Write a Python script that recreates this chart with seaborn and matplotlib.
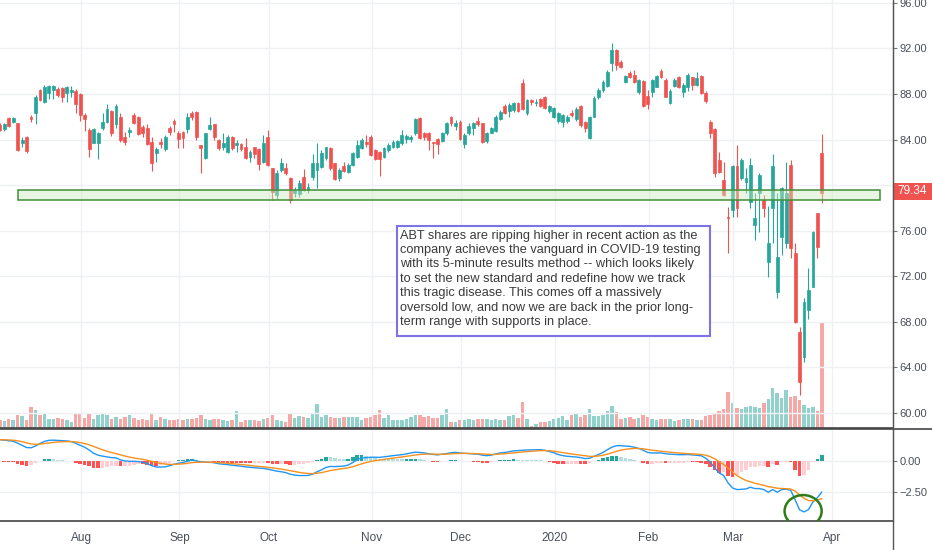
import numpy as np
import pandas as pd
import matplotlib
matplotlib.use('Agg')
import matplotlib.pyplot as plt
import seaborn as sns
from matplotlib.patches import Rectangle, Ellipse
from matplotlib.lines import Line2D
from matplotlib.ticker import FuncFormatter

# ABT daily candles, 2019-07-05 .. 2020-03-27
opens = [
    85.28, 84.89, 85.86, 85.57, 85.42, 83.66, 84.19, 86.01, 86.30, 88.36,
    87.33, 88.06, 88.36, 88.41, 88.50, 88.12, 88.21, 88.30, 88.00, 86.13,
    84.84, 83.72, 83.72, 84.98, 85.57, 86.51, 85.36, 86.01, 84.25, 84.69,
    86.16, 86.01, 85.07, 84.98, 83.81, 82.79, 83.81, 83.14, 85.04, 85.66,
    84.54, 84.69, 84.89, 86.30, 86.45, 83.49, 82.35, 84.89, 85.36, 83.96,
    83.37, 82.93, 84.25, 83.52, 83.61, 83.37, 82.49, 83.37, 83.14, 82.05,
    84.19, 81.47, 79.13, 81.32, 81.47, 80.59, 79.27, 79.21, 80.74, 79.56,
    80.68, 81.32, 81.62, 82.35, 83.23, 81.91, 80.59, 81.70, 81.17, 81.76,
    82.49, 83.23, 83.81, 84.25, 83.08, 82.93, 82.49, 83.08, 83.31, 83.37,
    83.66, 84.02, 84.02, 84.54, 85.86, 84.60, 84.60, 83.78, 84.02, 83.90,
    84.54, 86.01, 85.19, 85.57, 83.61, 84.54, 84.98, 85.66, 85.42, 83.90,
    84.60, 84.78, 85.77, 86.95, 86.54, 86.59, 87.18, 89.00, 86.30, 87.47,
    87.18, 87.53, 87.71, 86.54, 86.01, 85.66, 85.57, 85.66, 86.36, 85.77,
    86.95, 85.57, 84.10, 86.01, 87.71, 88.36, 88.71, 90.70, 91.87, 90.84,
    89.09, 89.82, 89.67, 88.21, 89.17, 87.82, 88.21, 88.64, 90.05, 89.23,
    87.18, 88.71, 89.52, 88.21, 88.59, 89.46, 88.79, 89.58, 88.06, 85.57,
    84.90, 82.20, 80.45, 77.22, 77.81, 81.68, 80.59, 80.30, 78.54, 76.49,
    79.28, 78.69, 73.27, 77.96, 70.63, 75.47, 74.88, 81.77, 74.06, 67.12,
    64.92, 69.02, 71.07, 77.52, 82.79,
]
highs = [
    85.42, 85.48, 86.01, 86.01, 85.48, 84.25, 84.31, 86.16, 87.91, 88.41,
    88.79, 88.79, 88.79, 88.59, 88.59, 88.71, 88.74, 88.41, 88.12, 86.30,
    84.98, 84.98, 84.69, 86.30, 87.12, 86.59, 87.12, 86.30, 84.69, 85.13,
    86.30, 86.07, 85.28, 85.36, 84.25, 83.37, 84.10, 84.40, 85.19, 85.77,
    84.78, 84.78, 86.30, 86.54, 86.51, 83.52, 84.60, 86.01, 85.36, 84.02,
    84.54, 84.40, 84.31, 83.96, 83.72, 84.10, 83.08, 83.37, 83.23, 84.40,
    84.84, 81.47, 81.32, 82.35, 81.91, 80.74, 79.86, 80.44, 81.38, 80.15,
    82.73, 83.72, 83.08, 83.37, 83.37, 81.97, 81.47, 82.05, 81.91, 82.93,
    83.96, 84.10, 84.40, 84.40, 83.14, 82.99, 83.37, 83.66, 83.96, 83.96,
    84.84, 84.46, 84.40, 85.86, 85.95, 84.69, 84.69, 83.81, 84.10, 84.69,
    85.57, 86.07, 85.72, 85.72, 84.54, 85.42, 85.57, 85.95, 85.48, 84.69,
    85.13, 86.16, 86.59, 87.12, 87.24, 87.33, 87.33, 89.29, 87.53, 87.53,
    87.53, 87.62, 87.82, 87.03, 86.83, 86.45, 86.25, 86.16, 86.59, 86.83,
    87.03, 85.66, 86.07, 87.82, 88.50, 89.23, 90.11, 92.51, 91.93, 90.99,
    89.67, 90.05, 90.11, 89.29, 89.23, 88.36, 89.29, 89.67, 90.17, 89.38,
    88.41, 89.38, 89.58, 88.94, 89.88, 89.52, 89.96, 89.67, 88.30, 85.72,
    84.99, 82.94, 82.06, 78.10, 81.77, 83.52, 82.35, 81.47, 82.35, 79.28,
    81.03, 79.13, 78.16, 82.73, 79.28, 79.86, 82.06, 82.20, 74.88, 67.50,
    70.05, 72.68, 75.99, 77.58, 84.49,
]
lows = [
    84.75, 84.78, 85.13, 85.42, 83.02, 83.37, 82.85, 85.57, 85.36, 87.41,
    87.24, 87.53, 87.53, 87.71, 87.33, 87.33, 87.77, 86.30, 85.66, 84.75,
    82.44, 83.66, 82.32, 84.84, 85.42, 84.31, 84.98, 83.81, 83.49, 84.25,
    85.36, 84.40, 84.25, 83.49, 81.26, 82.05, 83.23, 83.02, 84.40, 84.69,
    83.23, 83.23, 84.54, 85.72, 83.96, 81.03, 82.26, 84.84, 83.96, 83.08,
    83.08, 82.85, 83.08, 82.93, 83.02, 82.26, 82.05, 82.35, 81.32, 81.91,
    81.67, 78.69, 78.75, 81.17, 80.88, 78.39, 78.98, 78.98, 79.51, 79.33,
    80.44, 79.71, 81.47, 82.20, 81.32, 80.44, 80.39, 81.17, 81.03, 81.70,
    82.35, 83.14, 83.37, 82.55, 82.20, 80.80, 82.35, 82.93, 83.23, 83.23,
    83.52, 83.66, 83.81, 84.40, 84.02, 83.96, 83.08, 82.35, 82.73, 83.81,
    84.40, 85.19, 84.84, 83.96, 83.23, 84.40, 84.40, 85.19, 83.72, 83.72,
    84.54, 84.69, 85.72, 86.25, 85.95, 86.45, 86.45, 86.59, 86.16, 87.03,
    86.95, 86.83, 86.65, 86.30, 85.86, 85.48, 85.13, 85.48, 85.95, 85.66,
    85.13, 84.69, 84.02, 85.95, 87.53, 88.21, 88.59, 90.05, 90.11, 90.26,
    88.94, 89.38, 89.00, 88.00, 86.89, 86.65, 87.77, 88.59, 89.38, 87.71,
    87.12, 88.59, 88.50, 87.71, 88.30, 88.36, 88.71, 88.00, 87.18, 84.11,
    80.74, 81.03, 79.04, 74.00, 77.22, 77.22, 80.45, 79.28, 77.96, 75.17,
    75.91, 77.22, 71.95, 74.88, 70.05, 73.86, 74.44, 73.56, 67.91, 61.55,
    64.48, 68.20, 71.01, 73.56, 78.46,
]
closes = [
    84.84, 85.36, 85.19, 85.86, 83.08, 83.96, 83.02, 85.77, 87.77, 87.47,
    88.59, 88.71, 88.71, 87.91, 87.77, 88.59, 88.36, 87.12, 86.16, 85.83,
    83.14, 84.89, 84.60, 85.57, 86.65, 84.54, 86.95, 83.96, 83.81, 84.84,
    85.42, 84.49, 84.60, 83.61, 81.97, 83.17, 83.61, 84.25, 84.69, 85.36,
    84.02, 84.10, 86.01, 86.01, 84.19, 83.26, 84.54, 85.28, 84.25, 83.23,
    83.72, 84.19, 83.23, 83.66, 83.14, 82.35, 82.93, 82.73, 81.85, 83.72,
    81.76, 79.42, 81.09, 81.97, 81.03, 78.69, 79.56, 80.15, 79.56, 79.86,
    81.97, 81.91, 82.79, 83.31, 81.47, 80.50, 81.32, 81.26, 81.76, 82.79,
    83.52, 83.96, 83.61, 82.64, 82.26, 82.26, 83.23, 83.52, 83.81, 83.87,
    84.40, 84.31, 84.19, 85.77, 84.10, 84.19, 83.96, 83.66, 83.61, 84.54,
    85.48, 85.42, 85.48, 84.02, 84.40, 85.19, 85.48, 85.36, 83.81, 84.60,
    84.98, 86.01, 86.45, 86.36, 87.03, 87.18, 86.54, 86.65, 87.47, 87.33,
    87.33, 86.95, 86.74, 86.95, 86.74, 86.30, 86.16, 86.01, 86.16, 86.65,
    85.28, 84.98, 86.01, 87.62, 88.36, 89.09, 89.96, 91.87, 90.55, 90.40,
    89.58, 89.52, 89.09, 89.23, 86.95, 87.12, 89.23, 89.58, 89.46, 87.77,
    88.30, 89.23, 88.59, 88.79, 89.67, 88.79, 89.38, 88.06, 87.42, 84.55,
    81.03, 81.18, 79.13, 77.08, 81.68, 77.96, 82.20, 80.59, 81.77, 77.08,
    80.89, 77.96, 74.88, 81.68, 73.71, 79.71, 79.28, 74.44, 67.97, 62.72,
    69.76, 70.78, 75.91, 74.59, 79.34,
]
# volume, millions of shares
volumes = [
    3.9, 3.4, 4.7, 4.2, 6.4, 5.9, 4.2, 10.5, 9.2, 6.7,
    7.2, 4.4, 4.4, 5.0, 4.7, 3.9, 3.0, 6.9, 7.7, 5.0,
    6.9, 4.7, 6.4, 7.2, 6.4, 4.4, 5.5, 4.7, 5.5, 6.7,
    5.0, 3.9, 4.4, 3.9, 7.2, 3.9, 5.5, 4.7, 4.2, 4.2,
    4.7, 4.2, 4.7, 4.7, 5.0, 6.4, 4.7, 3.9, 4.4, 4.4,
    3.9, 3.5, 3.9, 8.4, 3.0, 4.2, 3.9, 3.9, 3.5, 4.7,
    5.0, 6.7, 3.9, 3.5, 3.0, 6.9, 5.0, 5.9, 5.5, 5.0,
    7.2, 12.2, 5.5, 6.4, 5.5, 5.0, 5.0, 5.5, 5.5, 5.5,
    5.5, 4.2, 5.0, 5.5, 6.4, 9.2, 5.0, 6.7, 3.9, 3.9,
    4.2, 4.7, 5.5, 6.4, 6.4, 5.5, 5.9, 5.0, 5.0, 6.4,
    9.7, 3.0, 3.0, 4.2, 3.9, 4.4, 3.9, 4.7, 4.7, 4.4,
    3.9, 4.4, 4.2, 3.9, 5.9, 6.4, 5.2, 13.0, 4.7, 1.0,
    2.2, 3.0, 3.0, 3.5, 4.7, 5.2, 6.0, 3.9, 6.7, 7.2,
    5.5, 6.4, 9.7, 6.0, 6.0, 6.7, 8.4, 11.0, 8.0, 4.7,
    5.0, 5.5, 4.7, 5.0, 6.7, 5.5, 4.4, 4.2, 4.4, 4.7,
    4.7, 3.5, 3.9, 4.7, 4.7, 4.4, 3.9, 3.9, 6.0, 6.4,
    7.7, 8.4, 9.7, 18.2, 12.4, 9.9, 9.4, 10.4, 11.2, 10.7,
    9.9, 12.4, 14.5, 19.9, 17.7, 14.9, 19.0, 15.7, 16.0, 14.0,
    11.5, 9.9, 10.7, 8.7, 52.4,
]
# MACD (12, 26) line
macd_line = [
    1.76, 1.72, 1.68, 1.63, 1.48, 1.30, 1.12, 1.10, 1.25, 1.45,
    1.62, 1.71, 1.72, 1.70, 1.68, 1.66, 1.60, 1.47, 1.30, 1.15,
    0.92, 0.65, 0.50, 0.42, 0.36, 0.30, 0.28, 0.12, 0.03, 0.00,
    0.00, -0.02, -0.08, -0.20, -0.35, -0.46, -0.47, -0.45, -0.36, -0.24,
    -0.16, -0.10, 0.00, 0.12, 0.02, -0.03, -0.06, -0.08, -0.12, -0.20,
    -0.24, -0.27, -0.32, -0.36, -0.40, -0.45, -0.49, -0.52, -0.55, -0.58,
    -0.64, -0.72, -0.80, -0.85, -0.92, -1.05, -1.12, -1.16, -1.16, -1.15,
    -1.05, -0.85, -0.70, -0.50, -0.42, -0.43, -0.41, -0.39, -0.30, -0.10,
    0.15, 0.27, 0.30, 0.33, 0.33, 0.32, 0.36, 0.41, 0.46, 0.50,
    0.54, 0.60, 0.68, 0.74, 0.72, 0.68, 0.62, 0.56, 0.52, 0.58,
    0.63, 0.70, 0.73, 0.68, 0.65, 0.63, 0.60, 0.58, 0.50, 0.46,
    0.50, 0.60, 0.68, 0.72, 0.78, 0.85, 0.87, 0.90, 0.92, 0.93,
    0.94, 0.95, 0.90, 0.80, 0.70, 0.55, 0.46, 0.41, 0.38, 0.35,
    0.30, 0.22, 0.25, 0.41, 0.55, 0.72, 0.95, 1.15, 1.27, 1.27,
    1.24, 1.22, 1.15, 1.05, 0.90, 0.72, 0.68, 0.68, 0.68, 0.62,
    0.58, 0.56, 0.54, 0.54, 0.55, 0.52, 0.49, 0.45, 0.25, -0.05,
    -0.54, -0.95, -1.15, -1.76, -2.17, -2.30, -2.28, -2.25, -2.11, -2.22,
    -2.22, -2.30, -2.52, -2.30, -2.52, -2.30, -2.28, -2.35, -3.12, -3.95,
    -4.12, -3.93, -3.31, -2.95, -2.49,
]
price_ticks = [60, 64, 68, 72, 76, 80, 84, 88, 92, 96]
macd_ticks = [0.0, -2.5]
last_price = 79.34
note = ("ABT shares are ripping higher in recent action as the\n"
        "company achieves the vanguard in COVID-19 testing\n"
        "with its 5-minute results method -- which looks likely\n"
        "to set the new standard and redefine how we track\n"
        "this tragic disease. This comes off a massively\n"
        "oversold low, and now we are back in the prior long-\n"
        "term range with supports in place.")

holidays = ['2019-09-02', '2019-11-28', '2019-12-25', '2020-01-01',
            '2020-01-20', '2020-02-17']
days = pd.bdate_range('2019-07-05', '2020-04-01', freq='C', holidays=holidays)
n = len(closes)
df = pd.DataFrame({'date': days[:n], 'open': opens, 'high': highs,
                   'low': lows, 'close': closes, 'volume': volumes,
                   'macd': macd_line})
df['x'] = np.arange(n)
df['signal'] = df['macd'].ewm(span=9, adjust=False).mean()
df['hist'] = df['macd'] - df['signal']

# month ticks at the start of each month (label sits just before the first bar)
cal = pd.Series(days)
first = cal.groupby([cal.dt.year, cal.dt.month]).head(1)
month_idx = [i for i in first.index if i > 0]
month_pos = [i - 0.8 for i in month_idx]
month_lab = ['2020' if cal[i].month == 1 else cal[i].strftime('%b') for i in month_idx]

UP, DN = '#26a69a', '#ef5350'
GRID = '#eef0f4'
TXT = '#4a4f5a'

sns.set_style('white')
plt.rcParams['font.family'] = ['Liberation Sans', 'DejaVu Sans']

fig = plt.figure(figsize=(9.32, 5.5), dpi=100)
W, H = 932, 550
right = 893 / W
rect_p = [0, 1 - 428 / H, right, 428 / H]
rect_m = [0, 1 - 521 / H, right, 92 / H]

axv = fig.add_axes(rect_p)
ax = fig.add_axes(rect_p, sharex=axv)
ax2 = fig.add_axes(rect_m, sharex=axv)
ax.patch.set_visible(False)

up = df['close'] >= df['open']
col = np.where(up, UP, DN)

# volume
axv.bar(df['x'], df['volume'], width=0.78, color=col, alpha=0.5, linewidth=0)
axv.set_ylim(0, 214)
axv.set_yticks([])
axv.tick_params(labelbottom=False, length=0)
for s in axv.spines.values():
    s.set_visible(False)

# candles
ax.vlines(df['x'], df['low'], df['high'], colors=col, linewidth=0.8, zorder=3)
body_lo = np.minimum(df['open'], df['close'])
body_h = np.abs(df['close'] - df['open'])
ax.bar(df['x'], body_h, bottom=body_lo, width=0.64, color=col,
       edgecolor=col, linewidth=0.5, zorder=4)

ax.set_xlim(0.05, 893 / 4.468 + 0.05)
ax.set_ylim(58.65, 96.26)
ax.set_xticks(month_pos)
ax.set_yticks(price_ticks)
ax.yaxis.tick_right()
# the 80.00 label is hidden behind the last-price tag
ax.yaxis.set_major_formatter(FuncFormatter(lambda v, p: '' if abs(v - 80) < 0.01 else f'{v:.2f}'))
ax.tick_params(axis='y', length=3, color='#777', labelsize=8,
               labelcolor=TXT, pad=1.5)
ax.tick_params(axis='x', labelbottom=False, length=0)
ax.grid(True, color=GRID, linewidth=1)
ax.set_axisbelow(True)
for k in ['top', 'left']:
    ax.spines[k].set_visible(False)
ax.spines['right'].set_color('#555')
ax.spines['bottom'].set_color('#444')
ax.spines['bottom'].set_linewidth(1.2)

# support zone
ax.add_patch(Rectangle((4.1, 78.69), 197.0 - 4.1, 0.88, facecolor='#cfeac2',
                       alpha=0.45, edgecolor='none', zorder=5))
ax.add_patch(Rectangle((4.1, 78.69), 197.0 - 4.1, 0.88, facecolor='none',
                       edgecolor='#3f8f36', linewidth=1.1, zorder=6))

# last price tag
xr = ax.get_xlim()[1]
ax.add_patch(Rectangle((xr, last_price - 0.62), 8.8, 1.45, facecolor=DN,
                       edgecolor='none', clip_on=False, zorder=7))
ax.text(xr + 4.3, last_price + 0.1, f'{last_price:.2f}', color='white', fontsize=8.5,
        ha='center', va='center', zorder=8, clip_on=False)

# MACD pane
hist = df['hist'].to_numpy()
prev = np.r_[hist[0], hist[:-1]]
hcol = np.where(hist >= 0, np.where(hist >= prev, '#26a69a', '#b2dfdb'),
                np.where(hist < prev, '#ff5252', '#ffcdd2'))
ax2.bar(df['x'], hist, width=0.8, color=hcol, linewidth=0, zorder=2)
sns.lineplot(x=df['x'], y=df['macd'], ax=ax2, color='#2196f3', linewidth=1.0, zorder=3)
sns.lineplot(x=df['x'], y=df['signal'], ax=ax2, color='#f7901e', linewidth=1.0, zorder=3)
ax2.set_ylim(-4.86, 2.63)
ax2.set_yticks(macd_ticks)
ax2.yaxis.tick_right()
ax2.yaxis.set_major_formatter(FuncFormatter(lambda v, p: f'{v:.2f}'.replace('-', '\u2212')))
ax2.tick_params(axis='y', length=3, color='#777', labelsize=8, labelcolor=TXT, pad=1.5)
ax2.set_xticks(month_pos)
ax2.set_xticklabels(month_lab)
ax2.tick_params(axis='x', length=3, color='#555', labelsize=8.5, labelcolor=TXT, pad=5)
ax2.set_xlabel('')
ax2.set_ylabel('')
ax2.grid(True, color=GRID, linewidth=1)
ax2.set_axisbelow(True)
for k in ['top', 'left']:
    ax2.spines[k].set_visible(False)
ax2.spines['right'].set_color('#555')
ax2.spines['bottom'].set_color('#444')
ax2.spines['bottom'].set_linewidth(1.2)

ax2.add_patch(Ellipse((179.8, -4.05), 8.3, 2.6, fill=False, edgecolor='#2f7d18',
                      linewidth=1.8, zorder=5))

# pane separator and price-scale line
fig.add_artist(Line2D([0, 1], [1 - 428.5 / H] * 2, color='#444', linewidth=1.2))
fig.add_artist(Line2D([right, right], [0, 1], color='#555', linewidth=1.0))

# note box
fig.add_artist(Rectangle((397 / W, 1 - 336 / H), 313 / W, 110 / H,
                         transform=fig.transFigure, facecolor='white',
                         edgecolor='#7b73e6', linewidth=1.5, zorder=10))
fig.text(400.5 / W, 1 - 229.5 / H, note, ha='left', va='top', fontsize=9.15,
         color='#3a3a3a', linespacing=1.27, zorder=11)

fig.savefig('out.png', dpi=100)
